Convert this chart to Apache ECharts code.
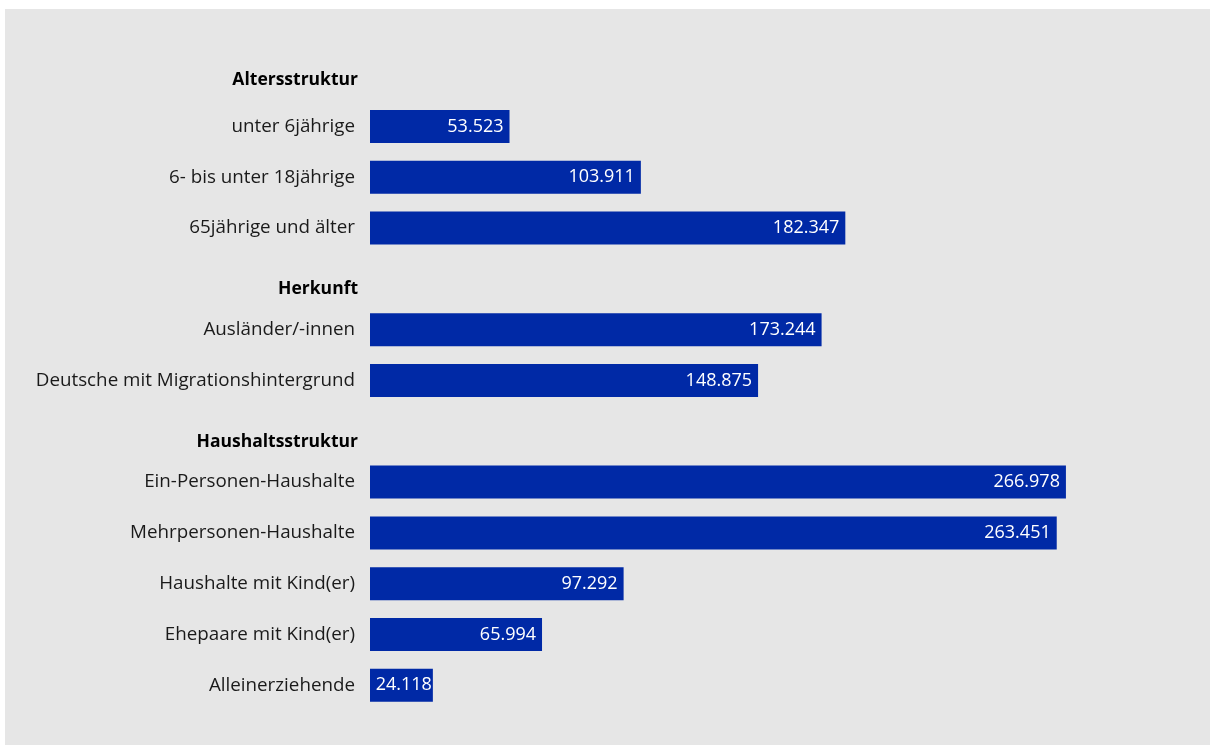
<!DOCTYPE html>
<html><head><meta charset="utf-8">
<script src="https://cdn.jsdelivr.net/npm/echarts@6/dist/echarts.min.js"></script>
<style>html,body{margin:0;padding:0;background:#fff}#c{width:1210px;height:745px}</style>
</head><body><div id="c"></div>
<script>
const categories = ['Altersstruktur','unter 6jährige','6- bis unter 18jährige','65jährige und älter','Herkunft','Ausländer/-innen','Deutsche mit Migrationshintergrund','Haushaltsstruktur','Ein-Personen-Haushalte','Mehrpersonen-Haushalte','Haushalte mit Kind(er)','Ehepaare mit Kind(er)','Alleinerziehende'];
const values = [null,53523,103911,182347,null,173244,148875,null,266978,263451,97292,65994,24118];
const headers = {'Altersstruktur':'h1','Herkunft':'h2','Haushaltsstruktur':'h3'};
const FONT = 'Open Sans';
const chart = echarts.init(document.getElementById('c'));
const fmt = v => v.toLocaleString('de-DE');
const hStyle = (pt) => ({fontFamily:FONT,fontSize:17.5,fontWeight:'bold',color:'#000',padding:[pt,-3,0,0]});
const barData = values.map(v => (v !== null && v < 30000) ? {value:v, label:{distance:1}} : v);
chart.setOption({
  animation:false,
  graphic:[{type:'rect',z:-10,silent:true,shape:{x:5,y:9,width:1205,height:736},style:{fill:'#e6e6e6'}}],
  grid:{left:370,top:50.3,width:782,height:660.4,containLabel:false},
  xAxis:{type:'value',min:0,max:300000,show:false},
  yAxis:{type:'category',inverse:true,data:categories,
    axisLine:{show:false},axisTick:{show:false},
    axisLabel:{margin:15,fontFamily:FONT,fontSize:18.8,color:'#1a1a1a',
      formatter:v=>headers[v]?('{'+headers[v]+'|'+v+'}'):v,
      rich:{h1:hStyle(8),h2:hStyle(20),h3:hStyle(22)}}},
  series:[{type:'bar',data:barData,barWidth:33,itemStyle:{color:'#0029a6'},
    label:{show:true,position:'insideRight',distance:6,color:'#fff',fontFamily:FONT,fontSize:18,
      formatter:p=>fmt(p.value)}}]
});
</script></body></html>
